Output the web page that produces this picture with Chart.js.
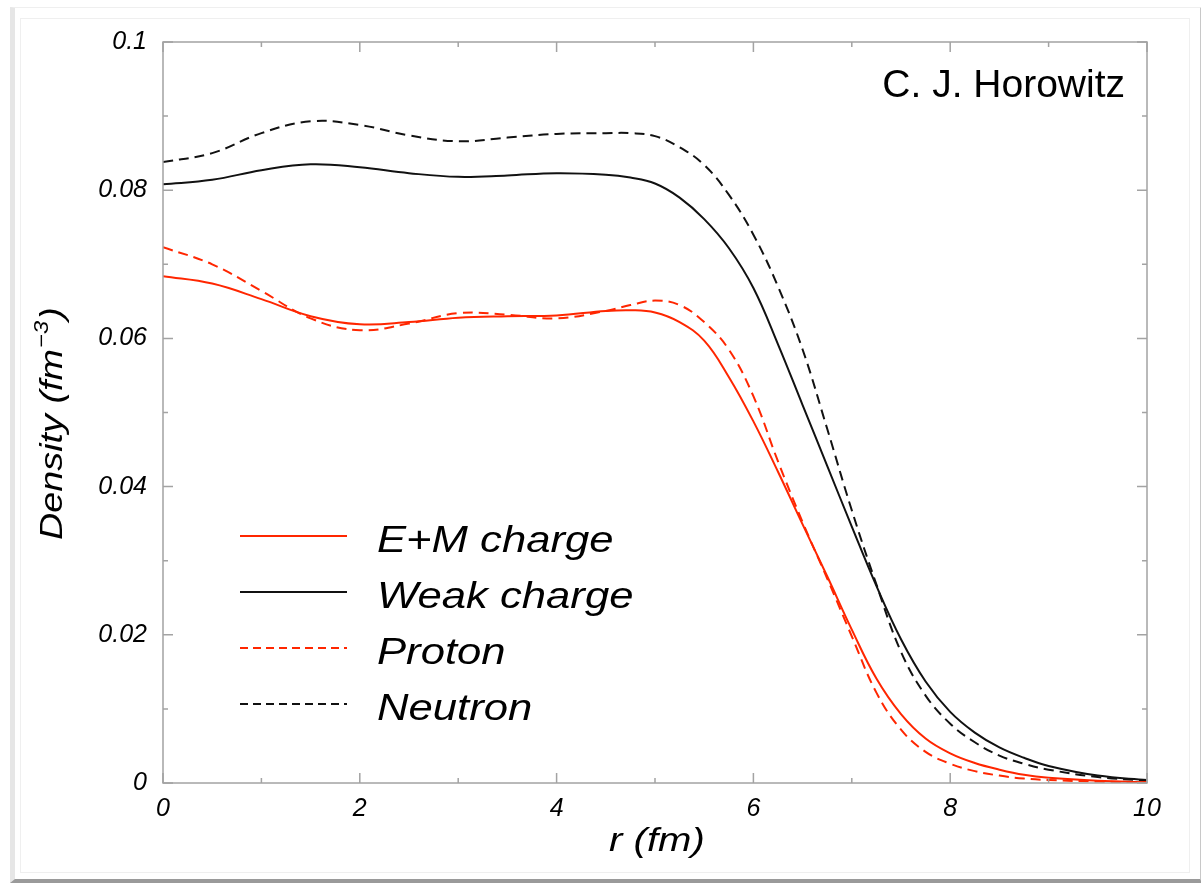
<!DOCTYPE html>
<html>
<head>
<meta charset="utf-8">
<script src="https://cdn.jsdelivr.net/npm/chart.js@4/dist/chart.umd.min.js"></script>
<style>
  html, body { margin: 0; padding: 0; background: #fff; overflow: hidden; }
  #wrap { position: relative; width: 1201px; height: 885px; }
  .frame-outer {
    position: absolute; left: 10px; top: 7px; width: 1185px; height: 871px;
    border-left: 5px solid #e6e6e6; border-top: 1px solid #efefef;
    border-right: 2px solid #c8c8c8; border-bottom: 4px solid #9a9a9a;
  }
  .frame-inner {
    position: absolute; left: 20px; top: 18px; width: 1168px; height: 853px;
    border: 1px solid #efefef;
  }
  canvas { position: absolute; left: 0; top: 0; }
</style>
</head>
<body>
<div id="wrap">
  <div class="frame-outer"></div>
  <div class="frame-inner"></div>
  <canvas id="chart" width="1201" height="885"></canvas>
</div>
<script>
// radius (fm)
const radius = [0, 0.5, 1, 1.5, 2, 2.5, 3, 3.5, 4, 4.5, 4.75, 5, 5.25, 5.5, 5.75, 6, 6.25, 6.5, 6.75, 7, 7.25, 7.5, 7.75, 8, 8.25, 8.5, 8.75, 9, 9.5, 10];

// densities (fm^-3)
const emCharge = [0.0684, 0.0674, 0.0653, 0.0630, 0.0619, 0.0622, 0.0628, 0.0630, 0.0631, 0.0637, 0.0638, 0.0635, 0.0622, 0.0597, 0.0548, 0.0488, 0.0420, 0.0349, 0.0279, 0.0207, 0.0141, 0.0093, 0.0060, 0.0040, 0.0027, 0.0018, 0.0011, 0.0007, 0.0003, 0.0001];
const weakCharge = [0.0808, 0.0814, 0.0827, 0.0835, 0.0831, 0.0823, 0.0818, 0.0820, 0.0823, 0.0821, 0.0817, 0.0809, 0.0790, 0.0761, 0.0722, 0.0668, 0.0592, 0.0510, 0.0428, 0.0346, 0.0266, 0.0194, 0.0137, 0.0096, 0.0068, 0.0048, 0.0034, 0.0023, 0.0010, 0.0004];
const proton = [0.0723, 0.0700, 0.0664, 0.0627, 0.0611, 0.0620, 0.0634, 0.0632, 0.0627, 0.0637, 0.0645, 0.0651, 0.0645, 0.0622, 0.0585, 0.0522, 0.0434, 0.0352, 0.0276, 0.0198, 0.0122, 0.0072, 0.0042, 0.0026, 0.0016, 0.0010, 0.0006, 0.0004, 0.0002, 0.0001];
const neutron = [0.0838, 0.0850, 0.0877, 0.0893, 0.0888, 0.0874, 0.0866, 0.0871, 0.0876, 0.0877, 0.0877, 0.0873, 0.0858, 0.0834, 0.0794, 0.0740, 0.0670, 0.0585, 0.0478, 0.0368, 0.0268, 0.0177, 0.0118, 0.0080, 0.0055, 0.0037, 0.0026, 0.0018, 0.0008, 0.0003];

const seriesNames = ['E+M charge', 'Weak charge', 'Proton', 'Neutron'];
const xTicks = [0, 2, 4, 6, 8, 10];
const yTicks = [0, 0.02, 0.04, 0.06, 0.08, 0.1];

const RED = 'rgb(255, 38, 0)';
const BLACK = '#111';
const FONT = '"Liberation Sans", Arial, sans-serif';

const toPoints = arr => arr.map((v, i) => ({ x: radius[i], y: v }));

function line(label, values, color, dashed) {
  return {
    label: label,
    data: toPoints(values),
    borderColor: color,
    borderWidth: 2,
    borderDash: dashed ? [10, 6] : [],
    pointRadius: 0,
    fill: false,
    tension: 0.4
  };
}

function stretchText(ctx, text, x, y, size, align, sx, style) {
  ctx.save();
  ctx.translate(x, y);
  ctx.scale(sx, 1);
  ctx.font = (style || 'italic') + ' ' + size + 'px ' + FONT;
  ctx.textAlign = align;
  ctx.textBaseline = 'alphabetic';
  ctx.fillStyle = '#000';
  ctx.fillText(text, 0, 0);
  ctx.restore();
}

// frame, inward ticks on all four sides, axis titles, legend, credit
const decorations = {
  id: 'decorations',
  afterDatasetsDraw(chart) {
    const { ctx, chartArea: a, scales } = chart;
    ctx.save();
    ctx.strokeStyle = '#a3a3a3';
    ctx.lineWidth = 1.5;
    ctx.strokeRect(a.left, a.top, a.right - a.left, a.bottom - a.top);

    ctx.beginPath();
    scales.x.ticks.forEach(t => {
      const px = scales.x.getPixelForValue(t.value);
      const len = xTicks.includes(Math.round(t.value)) ? 10 : 5;
      ctx.moveTo(px, a.bottom); ctx.lineTo(px, a.bottom - len);
      ctx.moveTo(px, a.top); ctx.lineTo(px, a.top + len);
    });
    scales.y.ticks.forEach(t => {
      const py = scales.y.getPixelForValue(t.value);
      const major = yTicks.some(v => Math.abs(v - t.value) < 1e-6);
      const len = major ? 10 : 5;
      ctx.moveTo(a.left, py); ctx.lineTo(a.left + len, py);
      ctx.moveTo(a.right, py); ctx.lineTo(a.right - len, py);
    });
    ctx.stroke();
    ctx.restore();

    // x title
    stretchText(ctx, 'r (fm)', 657, 851, 34, 'center', 1.18);

    // y title with superscript
    ctx.save();
    ctx.translate(62, 540);
    ctx.rotate(-Math.PI / 2);
    ctx.scale(1.18, 1);
    ctx.fillStyle = '#000';
    ctx.textBaseline = 'alphabetic';
    ctx.textAlign = 'left';
    ctx.font = 'italic 32px ' + FONT;
    const main = 'Density (fm';
    ctx.fillText(main, 0, 0);
    let w = ctx.measureText(main).width;
    ctx.font = 'italic 20px ' + FONT;
    ctx.fillText('\u22123', w + 1, -14);
    w += ctx.measureText('\u22123').width + 2;
    ctx.font = 'italic 32px ' + FONT;
    ctx.fillText(')', w, 0);
    ctx.restore();

    // legend
    const rows = [536, 592, 648, 704];
    chart.data.datasets.forEach((ds, i) => {
      const y = rows[i];
      ctx.save();
      ctx.strokeStyle = ds.borderColor;
      ctx.lineWidth = 2;
      ctx.setLineDash(ds.borderDash.length ? [8, 5] : []);
      ctx.beginPath();
      ctx.moveTo(240, y);
      ctx.lineTo(347, y);
      ctx.stroke();
      ctx.restore();
      stretchText(ctx, ds.label, 377, y + 16, 37, 'left', 1.18);
    });

    // credit
    stretchText(ctx, 'C. J. Horowitz', 1125, 97, 39, 'right', 1, 'normal');
  }
};

new Chart(document.getElementById('chart').getContext('2d'), {
  type: 'line',
  data: {
    datasets: [
      line(seriesNames[0], emCharge, RED, false),
      line(seriesNames[1], weakCharge, BLACK, false),
      line(seriesNames[2], proton, RED, true),
      line(seriesNames[3], neutron, BLACK, true)
    ]
  },
  options: {
    responsive: false,
    animation: false,
    layout: { padding: { left: 0, right: 54, top: 42, bottom: 0 } },
    plugins: {
      legend: { display: false },
      tooltip: { enabled: false }
    },
    scales: {
      x: {
        type: 'linear',
        min: 0,
        max: 10,
        grid: { display: false, drawTicks: false },
        border: { display: false },
        ticks: {
          stepSize: 1,
          padding: 11,
          maxRotation: 0,
          autoSkip: false,
          color: '#000',
          font: { family: FONT, style: 'italic', size: 25 },
          callback: v => xTicks.includes(v) ? String(v) : ''
        },
        afterFit: s => { s.height = 102; }
      },
      y: {
        min: 0,
        max: 0.1,
        grid: { display: false, drawTicks: false },
        border: { display: false },
        ticks: {
          stepSize: 0.01,
          padding: 16,
          autoSkip: false,
          color: '#000',
          font: { family: FONT, style: 'italic', size: 25 },
          callback: v => {
            const hit = yTicks.find(t => Math.abs(t - v) < 1e-6);
            return hit === undefined ? '' : String(hit);
          }
        },
        afterFit: s => { s.width = 163; }
      }
    }
  },
  plugins: [decorations]
});
</script>
</body>
</html>
